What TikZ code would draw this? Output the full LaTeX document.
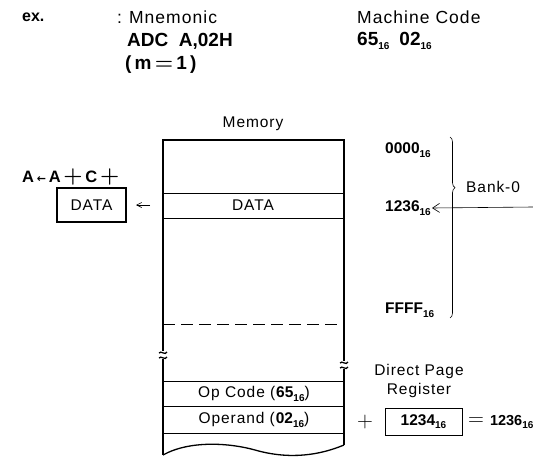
\documentclass[tikz,border=0pt]{standalone}
\usepackage{fontspec}
\setmainfont{Liberation Sans}[LetterSpace=6,BoldFeatures={LetterSpace=0}]
\newfontfamily\arrfont{DejaVu Sans}
\newfontfamily\lmfont{Latin Modern Roman}
\usetikzlibrary{decorations.pathreplacing,arrows.meta}
\newcommand{\hx}[1]{#1\raisebox{-3.5pt}{\bfseries\fontsize{10}{10}\selectfont 16}}
\newcommand{\fs}[1]{\fontsize{#1}{#1}\selectfont}
\newcommand{\pl}{\,{\lmfont\fs{22}+}\,}
\begin{document}
\begin{tikzpicture}[x=1pt,y=-1pt,font=\fs{15.5},
  txt/.style={inner sep=0pt,anchor=west},
  thick line/.style={line width=1.3pt},
  thin line/.style={line width=0.6pt},
  tip/.style={-{Straight Barb[length=5pt,width=5pt]},line width=0.6pt},
  bigtip/.style={-{Straight Barb[length=7pt,width=9pt]},line width=0.6pt}]
\useasboundingbox (0,0) rectangle (533,458);
% header
\node[txt] (ex) at (22,17) {\bfseries\fs{16}ex.};
\node[txt] (mn) at (117,17) {\fs{17.5}:\hspace{7pt}Mnemonic};
\node[txt] (adc) at (127,41) {\bfseries\fs{19}ADC\ \ A,02H};
\node[txt] (m1) at (125,65) {\bfseries\fs{19}(\,m\,{\lmfont\fs{21}=}\,1\,)};
\node[txt] (mc) at (357,17) {\fs{17.5}Machine Code};
\node[txt] (code) at (357,41) {\bfseries\fs{19}\hx{65}\hspace{10pt}\hx{02}};
% memory
\node (memlbl) at (253,124) {Memory};
\draw[thick line] (163,351) -- (163,140) -- (344,140) -- (344,361);
\draw[thick line] (163,359) -- (163,455);
\draw[thick line] (344,369) -- (344,445);
\draw[thick line] (159,353) .. controls (161,350) and (165,356) .. (167,352);
\draw[thick line] (159,358) .. controls (161,355) and (165,361) .. (167,357);
\draw[thick line] (340,363) .. controls (342,360) and (346,366) .. (348,362);
\draw[thick line] (340,368) .. controls (342,365) and (346,371) .. (348,367);
\draw[thick line] (163,455) .. controls (190,440) and (230,443) .. (255,450)
  .. controls (290,460) and (320,455) .. (344,445);
\draw[thin line] (163,193) -- (344,193);
\draw[thin line] (163,218) -- (344,218);
\draw[thin line,dash pattern=on 12pt off 6pt] (163,324) -- (344,324);
\draw[thin line] (163,381) -- (344,381);
\draw[thin line] (163,406) -- (344,406);
\draw[thin line] (163,433) -- (344,433);
\node (data) at (253,205) {DATA};
\node (opc) at (254,394) {Op Code (\textbf{\hx{65}})};
\node (opd) at (254,420) {Operand (\textbf{\hx{02}})};
% left side
\node[txt] (eq) at (22,177) {\bfseries\fs{16.5}A\,{\arrfont\fs{11}←}\,A\pl C\pl};
\node[draw,line width=1.3pt,minimum width=69pt,minimum height=34pt,inner sep=0pt] (dbox) at (91.5,205) {DATA};
\coordinate (dl) at (150,205);
\draw[tip] (dl) -- (136,205);
% right side
\node[txt] (a0) at (385,150) {\bfseries\fs{15.5}\hx{0000}};
\node[txt] (a1) at (385,208) {\bfseries\fs{15.5}\hx{1236}};
\node[txt] (af) at (385,310) {\bfseries\fs{15.5}\hx{FFFF}};
\draw[thin line,decorate,decoration={brace,amplitude=5pt,aspect=0.28}] (450,137) -- (450,318);
\node[txt] (bank) at (466,187) {Bank-0};
\coordinate (rin) at (533,207);
\draw[bigtip] (rin) -- ([xshift=1pt]a1.east);
% direct page
\node[align=center,inner sep=0pt] (dpr) at (419,381) {Direct Page\\[3pt]Register};
\node[txt] (plus) at (357,422) {\lmfont\fs{22}+};
\node[draw,thin line,minimum width=77pt,minimum height=27pt,inner sep=0pt] (reg) at (423.5,421.5) {\bfseries\fs{15.5}\hx{1234}};
\node[txt] (res) at (468,422) {{\lmfont\fs{22}=}\hspace{6pt}\bfseries\fs{14.5}\hx{1236}};
\end{tikzpicture}
\end{document}
